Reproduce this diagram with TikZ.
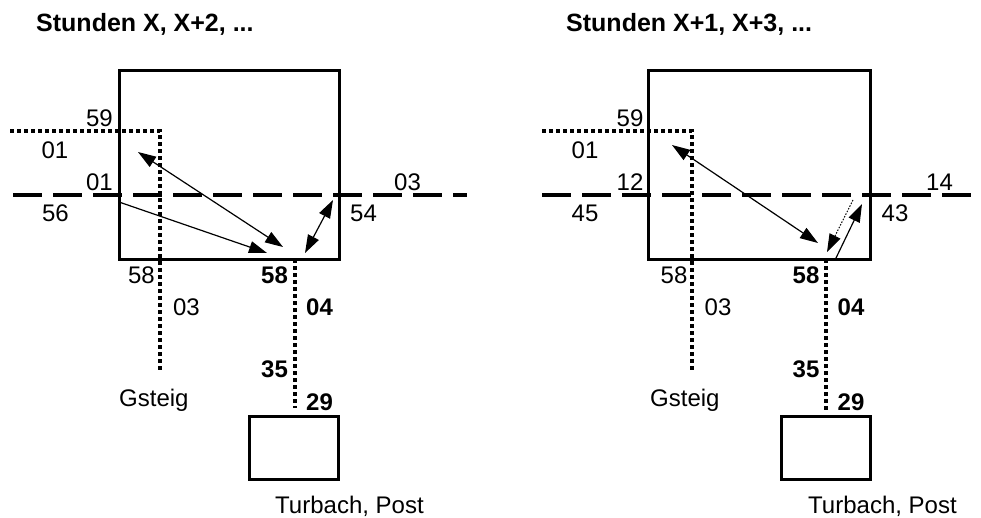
\documentclass[tikz,border=0pt]{standalone}
\usepackage{fontspec}
\setmainfont{Liberation Sans}
\usetikzlibrary{arrows.meta}

\begin{document}
\begin{tikzpicture}[x=1pt, y=-1pt,
  lbl/.style={inner sep=0pt, font=\fontsize{24}{28}\selectfont},
  blbl/.style={inner sep=0pt, font=\fontsize{24}{28}\selectfont\bfseries},
  ttl/.style={inner sep=0pt, anchor=base west, font=\fontsize{25}{30}\selectfont\bfseries},
  frame/.style={line width=3pt},
  track/.style={line width=3.5pt, dash pattern=on 3.5pt off 3.5pt},
  road/.style={line width=4pt, dash pattern=on 29pt off 11pt},
  conn/.style={line width=1.2pt, -{Triangle[length=18pt,width=12pt]}},
  both/.style={line width=1.2pt, {Triangle[length=18pt,width=12pt]}-{Triangle[length=18pt,width=12pt]}}]
  \useasboundingbox (0,0) rectangle (981,517);

  % left: Stunden X, X+2, ...
  \node[ttl] (titleA) at (36,31) {Stunden X, X+2, ...};
  \draw[frame] (119,70) rectangle (339,259);
  \draw[frame] (249,416) rectangle (338,479);
  \draw[road] (13,195) -- (467,195);
  \draw[track] (10,131) -- (160,131) -- (160,372);
  \draw[track] (295,259) -- (295,408);
  \node[lbl] (a59) at (99.5,118) {59};
  \node[lbl] (a01o) at (55,150) {01};
  \node[lbl] (a01u) at (99.5,182) {01};
  \node[lbl] (a56) at (55.5,213) {56};
  \node[lbl] (a03r) at (407.5,182) {03};
  \node[lbl] (a54) at (363.5,213) {54};
  \node[lbl] (a58g) at (141.5,275) {58};
  \node[lbl] (a03g) at (186.5,307) {03};
  \node[blbl] (a58t) at (274.5,275) {58};
  \node[blbl] (a04t) at (319.5,307) {04};
  \node[blbl] (a35t) at (274.5,369) {35};
  \node[blbl] (a29t) at (319.5,402) {29};
  \node[lbl, anchor=base west] (aGsteig) at (119,406) {Gsteig};
  \node[lbl, anchor=base west] (aPost) at (275,513) {Turbach, Post};
  \coordinate (aGs) at (138,152);
  \coordinate (aW) at (119,202);
  \coordinate (aE) at (333,200);
  \coordinate (aS1) at (283,247);
  \coordinate (aS2) at (267,253);
  \coordinate (aS3) at (305,253);
  \draw[both] (aGs) -- (aS1);
  \draw[conn] (aW) -- (aS2);
  \draw[both] (aE) -- (aS3);

  % right: Stunden X+1, X+3, ...
  \node[ttl] (titleB) at (566,31) {Stunden X+1, X+3, ...};
  \draw[frame] (648,70) rectangle (870,259);
  \draw[frame] (781,416) rectangle (870,479);
  \draw[road] (542,195) -- (981,195);
  \draw[track] (542,131) -- (692,131) -- (692,372);
  \draw[track] (826,259) -- (826,413);
  \node[lbl] (b59) at (630,118) {59};
  \node[lbl] (b01) at (585,150) {01};
  \node[lbl] (b12) at (630,182) {12};
  \node[lbl] (b45) at (585,213) {45};
  \node[lbl] (b14) at (939.5,182) {14};
  \node[lbl] (b43) at (895,213) {43};
  \node[lbl] (b58g) at (674,275) {58};
  \node[lbl] (b03g) at (718,307) {03};
  \node[blbl] (b58t) at (806,275) {58};
  \node[blbl] (b04t) at (851,307) {04};
  \node[blbl] (b35t) at (806,369) {35};
  \node[blbl] (b29t) at (851,402) {29};
  \node[lbl, anchor=base west] (bGsteig) at (650,406) {Gsteig};
  \node[lbl, anchor=base west] (bPost) at (808,513) {Turbach, Post};
  \coordinate (bGs) at (672,145);
  \coordinate (bE1) at (853,200);
  \coordinate (bE2) at (862,204);
  \coordinate (bS1) at (818,243);
  \coordinate (bS2) at (827,252);
  \coordinate (bS3) at (836,258);
  \draw[both] (bGs) -- (bS1);
  \draw[conn, line width=1pt, dash pattern=on 1.5pt off 1.5pt] (bE1) -- (bS2);
  \draw[conn] (bS3) -- (bE2);
\end{tikzpicture}
\end{document}
